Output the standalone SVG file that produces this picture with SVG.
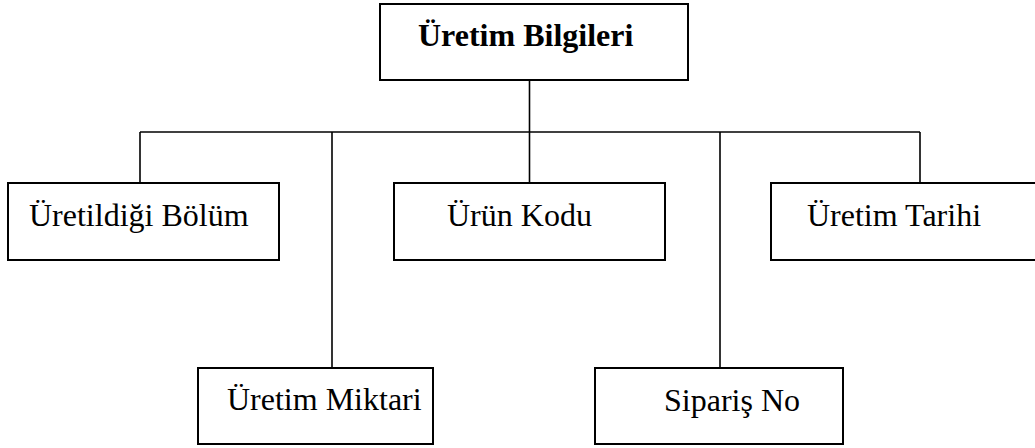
<svg xmlns="http://www.w3.org/2000/svg" width="1035" height="448" viewBox="0 0 1035 448">
  <style>
    .box { fill: #ffffff; stroke: #000000; stroke-width: 2; }
    .wire { fill: none; stroke: #000000; stroke-width: 1.6; }
    text { font-size: 32px; fill: #000000; }
    .title { font-weight: bold; }
  </style>

  <!-- tree connectors -->
  <g id="connectors">
    <line class="wire" x1="529.5" y1="80" x2="529.5" y2="132"/>
    <line class="wire" x1="140" y1="132" x2="920" y2="132"/>
    <line class="wire" x1="140" y1="132" x2="140" y2="183"/>
    <line class="wire" x1="332" y1="132" x2="332" y2="368"/>
    <line class="wire" x1="529.5" y1="132" x2="529.5" y2="183"/>
    <line class="wire" x1="720" y1="132" x2="720" y2="368"/>
    <line class="wire" x1="920" y1="132" x2="920" y2="183"/>
  </g>

  <g font-family="Times New Roman, Liberation Serif, Times, serif">
    <g id="uretim-bilgileri">
      <rect class="box" x="380" y="4" width="308" height="76"/>
      <text class="title" x="418" y="46">Üretim Bilgileri</text>
    </g>

    <g id="uretildigi-bolum">
      <rect class="box" x="8" y="183" width="271" height="77"/>
      <text x="29" y="226">Üretildiği Bölüm</text>
    </g>

    <g id="urun-kodu">
      <rect class="box" x="394" y="183" width="271" height="77"/>
      <text x="447" y="226">Ürün Kodu</text>
    </g>

    <g id="uretim-tarihi">
      <rect class="box" x="771" y="183" width="270" height="77"/>
      <text x="807" y="226">Üretim Tarihi</text>
    </g>

    <g id="uretim-miktari">
      <rect class="box" x="198" y="368" width="235" height="76"/>
      <text x="227" y="410">Üretim Miktari</text>
    </g>

    <g id="siparis-no">
      <rect class="box" x="595" y="368" width="248" height="76"/>
      <text x="664" y="411">Sipariş No</text>
    </g>
  </g>
</svg>
